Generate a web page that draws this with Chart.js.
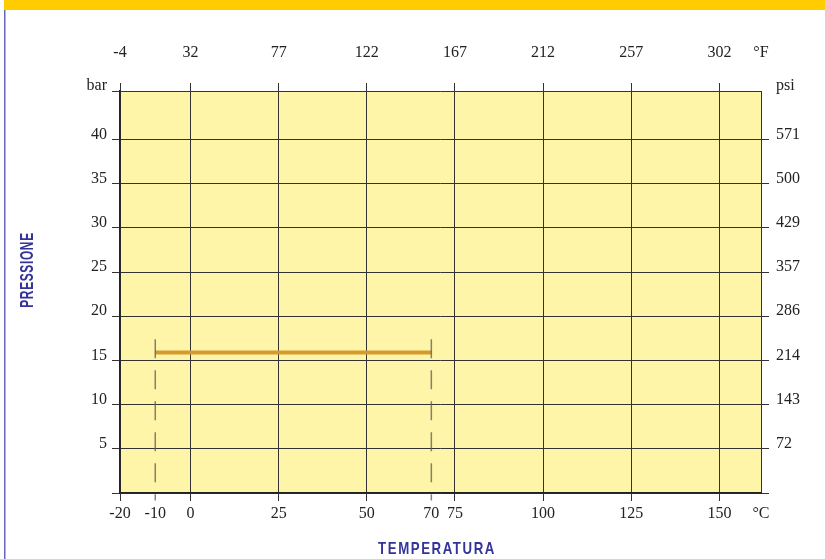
<!DOCTYPE html>
<html>
<head>
<meta charset="utf-8">
<script src="https://cdn.jsdelivr.net/npm/chart.js@4"></script>
<style>
  html, body { margin: 0; padding: 0; background: #fff; }
  canvas { display: block; }
</style>
</head>
<body>
<canvas id="chart" width="825" height="559"></canvas>
<script>
// ─── Data ───
const tempMin = -20;
const tempMax = 161.8;
const pressMin = 0;
const pressMax = 45.5;

// bottom axis (°C) and top axis (°F)
const celsiusTicks = [-20, -10, 0, 25, 50, 68.3, 75, 100, 125, 150, 161.8];
const celsiusLabels = ['-20', '-10', '0', '25', '50', '70', '75', '100', '125', '150', '°C'];
const fahrenheitTicks = [-20, 0, 25, 50, 75, 100, 125, 150, 161.8];
const fahrenheitLabels = ['-4', '32', '77', '122', '167', '212', '257', '302', '°F'];

// left axis (bar) and right axis (psi)
const barTicks = [0, 5, 10, 15, 20, 25, 30, 35, 40, 45.5];
const barLabels = ['', '5', '10', '15', '20', '25', '30', '35', '40', 'bar'];
const psiLabels = ['', '72', '143', '214', '286', '357', '429', '500', '571', 'psi'];

// working range
const rangeTemps = [-10, 68.3];
const rangePressure = [15.9, 15.9];
const markerTop = 17.4;
const markerBottom = -0.85;

const gridColor = '#333333';
const blue = '#33339a';
const tickFont = { family: "'Liberation Serif', 'DejaVu Serif', serif", size: 16 };

function hideAt(values, color) {
    return (ctx) => (ctx.tick && values.includes(ctx.tick.value)) ? 'rgba(0,0,0,0)' : color;
}

const frame = {
    id: 'frame',
    beforeDraw: (chart) => {
        const { ctx, chartArea } = chart;
        ctx.save();
        // banner + left rule
        ctx.fillStyle = '#ffcc00';
        ctx.fillRect(4, 0, chart.width - 4, 10);
        ctx.fillStyle = '#6666c0';
        ctx.fillRect(4, 10, 1.5, chart.height - 10);
        // plot background
        ctx.fillStyle = '#fff5a8';
        ctx.fillRect(chartArea.left, chartArea.top,
            chartArea.right - chartArea.left, chartArea.bottom - chartArea.top);
        ctx.restore();
    },
    afterDraw: (chart) => {
        const { ctx } = chart;
        ctx.save();
        ctx.fillStyle = blue;
        ctx.textAlign = 'center';
        ctx.textBaseline = 'middle';

        ctx.save();
        ctx.font = "bold 17px 'Liberation Sans', Arial, sans-serif";
        ctx.letterSpacing = '2px';
        ctx.translate(437, 549);
        ctx.scale(0.78, 1);
        ctx.fillText('TEMPERATURA', 0, 0);
        ctx.restore();

        ctx.save();
        ctx.font = "bold 19px 'Liberation Sans', Arial, sans-serif";
        ctx.letterSpacing = '1px';
        ctx.translate(28, 270);
        ctx.rotate(-Math.PI / 2);
        ctx.scale(0.63, 1);
        ctx.fillText('PRESSIONE', 0, 0);
        ctx.restore();

        ctx.restore();
    },
};

new Chart(document.getElementById('chart'), {
    type: 'line',
    data: {
        datasets: [
            {
                label: '-10',
                data: [{ x: rangeTemps[0], y: markerTop }, { x: rangeTemps[0], y: markerBottom }],
                borderColor: 'rgba(90, 90, 90, 0.75)',
                borderWidth: 1.5,
                borderDash: [19, 12],
                pointRadius: 0,
                clip: false,
            },
            {
                label: '70',
                data: [{ x: rangeTemps[1], y: markerTop }, { x: rangeTemps[1], y: markerBottom }],
                borderColor: 'rgba(90, 90, 90, 0.75)',
                borderWidth: 1.5,
                borderDash: [19, 12],
                pointRadius: 0,
                clip: false,
            },
            {
                label: 'range',
                data: rangeTemps.map((t, i) => ({ x: t, y: rangePressure[i] })),
                borderColor: '#d49a2c',
                borderWidth: 4,
                borderCapStyle: 'butt',
                pointRadius: 0,
            },
        ],
    },
    options: {
        responsive: false,
        animation: false,
        layout: { padding: 0 },
        plugins: {
            legend: { display: false },
            tooltip: { enabled: false },
        },
        scales: {
            x: {
                type: 'linear',
                position: 'bottom',
                min: tempMin,
                max: tempMax,
                afterBuildTicks: (s) => { s.ticks = celsiusTicks.map(v => ({ value: v })); },
                afterFit: (s) => { s.height = 66; },
                ticks: {
                    autoSkip: false,
                    maxRotation: 0,
                    padding: 3,
                    color: '#222',
                    font: tickFont,
                    callback: (v, i) => celsiusLabels[i],
                },
                grid: {
                    color: hideAt(rangeTemps, gridColor),
                    tickColor: hideAt([rangeTemps[0], rangeTemps[1], tempMax], gridColor),
                    tickLength: 8,
                    lineWidth: 1,
                },
                border: { display: true, color: '#222', width: 1.5 },
            },
            x2: {
                type: 'linear',
                position: 'top',
                min: tempMin,
                max: tempMax,
                afterBuildTicks: (s) => { s.ticks = fahrenheitTicks.map(v => ({ value: v })); },
                afterFit: (s) => { s.height = 91; },
                ticks: {
                    autoSkip: false,
                    maxRotation: 0,
                    padding: 21,
                    color: '#222',
                    font: tickFont,
                    callback: (v, i) => fahrenheitLabels[i],
                },
                grid: {
                    drawOnChartArea: false,
                    tickColor: hideAt([tempMax], gridColor),
                    tickLength: 8,
                },
                border: { display: false },
            },
            y: {
                type: 'linear',
                position: 'left',
                min: pressMin,
                max: pressMax,
                afterBuildTicks: (s) => { s.ticks = barTicks.map(v => ({ value: v })); },
                afterFit: (s) => { s.width = 120; },
                ticks: {
                    autoSkip: false,
                    padding: 5,
                    labelOffset: -5,
                    color: '#222',
                    font: tickFont,
                    callback: (v, i) => barLabels[i],
                },
                grid: {
                    color: gridColor,
                    tickColor: gridColor,
                    tickLength: 8,
                },
                border: { display: true, color: '#222', width: 1.5 },
            },
            y2: {
                type: 'linear',
                position: 'right',
                min: pressMin,
                max: pressMax,
                afterBuildTicks: (s) => { s.ticks = barTicks.map(v => ({ value: v })); },
                afterFit: (s) => { s.width = 64; },
                ticks: {
                    autoSkip: false,
                    padding: 7,
                    labelOffset: -5,
                    color: '#222',
                    font: tickFont,
                    callback: (v, i) => psiLabels[i],
                },
                grid: {
                    drawOnChartArea: false,
                    tickColor: hideAt([pressMax], gridColor),
                    tickLength: 8,
                },
                border: { display: false },
            },
        },
    },
    plugins: [frame],
});
</script>
</body>
</html>
